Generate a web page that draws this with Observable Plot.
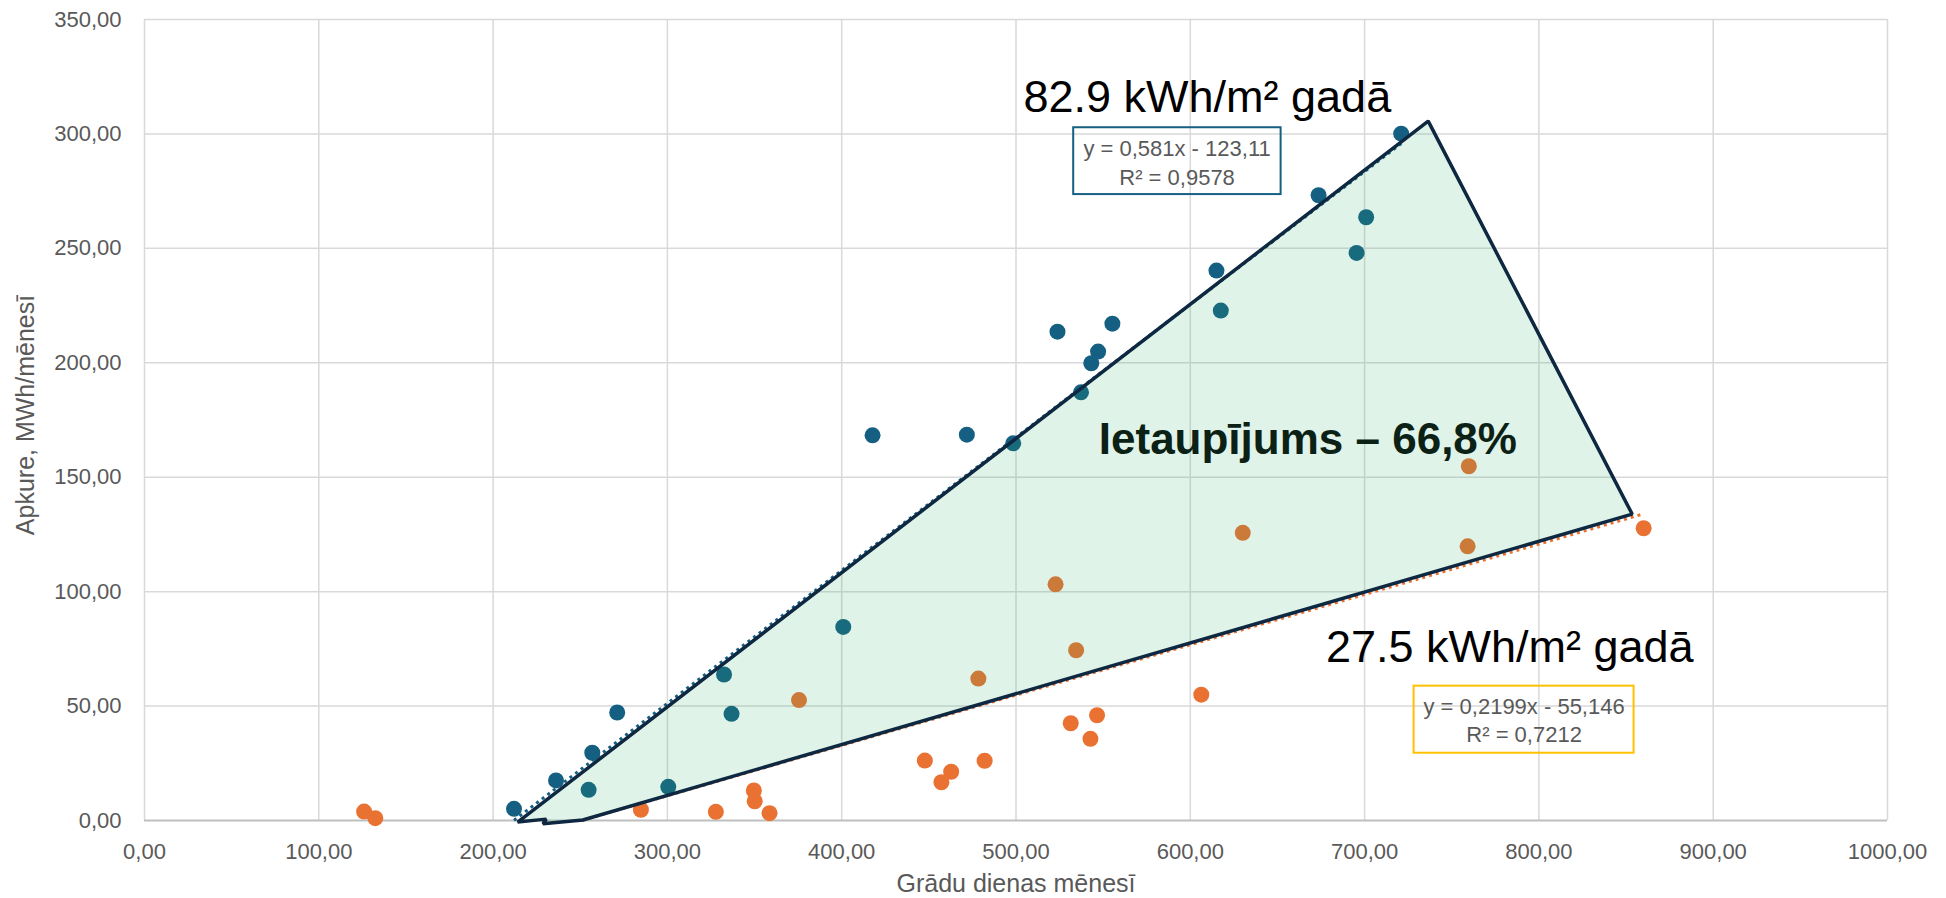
<!DOCTYPE html>
<html><head><meta charset="utf-8">
<script src="https://cdn.jsdelivr.net/npm/d3@7"></script>
<script src="https://cdn.jsdelivr.net/npm/@observablehq/plot@0.6"></script>
<style>
html,body{margin:0;padding:0;background:#fff;}
#chart svg{display:block;}
</style>
</head><body><div id="chart"></div>
<script>
// Series 1 (before renovation) – degree days vs heating MWh
const blueX = [212.0, 236.1, 254.8, 256.9, 271.2, 300.5, 332.5, 336.8, 400.9, 417.7, 471.8, 498.4, 523.8, 537.3, 543.2, 547.1, 555.3, 615.0, 617.5, 673.6, 695.4, 700.9, 721.0];
const blueY = [5.1, 17.5, 13.4, 29.6, 47.2, 14.7, 63.8, 46.6, 84.6, 168.3, 168.6, 164.8, 213.6, 187.1, 199.8, 204.9, 217.1, 240.3, 222.8, 273.2, 248.0, 263.6, 300.1];
// Series 2 (after renovation)
const orangeX = [126.0, 132.4, 284.8, 327.8, 349.6, 350.1, 358.6, 375.5, 447.7, 457.2, 462.8, 478.4, 482.0, 522.7, 531.4, 534.5, 542.7, 546.5, 606.3, 630.1, 759.1, 759.8, 860.1];
const orangeY = [3.9, 1.0, 4.7, 3.8, 13.1, 8.4, 3.2, 52.6, 26.2, 16.7, 21.3, 62.0, 26.1, 103.2, 42.5, 74.4, 35.7, 46.0, 55.0, 125.7, 119.8, 154.8, 127.7];

// Linear trendlines as printed on the chart
const trendSlope = [0.581, 0.2199];
const trendIntercept = [-123.11, -55.146];
const trendR2 = [0.9578, 0.7212];

// Savings area outline (data units)
const areaX = [214.1, 736.5, 853.5, 251.5, 228.6, 230.5];
const areaY = [-0.7, 305.6, 133.9, 0.2, -1.4, 0.6];

const intensityLabels = ["82.9 kWh/m² gadā", "27.5 kWh/m² gadā"];
const savingsLabel = "Ietaupījums – 66,8%";
const xTitle = "Grādu dienas mēnesī";
const yTitle = "Apkure, MWh/mēnesī";
const xTicks = [0, 100, 200, 300, 400, 500, 600, 700, 800, 900, 1000];
const yTicks = [0, 50, 100, 150, 200, 250, 300, 350];

const BLUE = "#156082", ORANGE = "#e97132", GOLD = "#ffc000";
const fmt = d => d.toFixed(2).replace(".", ",");
const dec = v => String(v).replace(".", ",");

const blue = blueX.map((x, i) => ({x, y: blueY[i]}));
const orange = orangeX.map((x, i) => ({x, y: orangeY[i]}));
const area = areaX.map((x, i) => ({x, y: areaY[i]}));
const seriesX = [blueX, orangeX];
const trends = trendSlope.map((a, i) => {
  const b = trendIntercept[i];
  const x0 = Math.max(d3.min(seriesX[i]), -b / a);
  const x1 = d3.max(seriesX[i]);
  return [{x: x0, y: a * x0 + b}, {x: x1, y: a * x1 + b}];
});
const eqLines = trendSlope.map((a, i) => [
  `y = ${dec(a)}x - ${dec(-trendIntercept[i])}`,
  `R² = ${dec(trendR2[i])}`
]);

const eqBoxes = [
  {x1: 533.1, x2: 652.1, y1: 273.5, y2: 302.7, stroke: BLUE},
  {x1: 728.4, x2: 854.6, y1: 29.4, y2: 58.7, stroke: GOLD}
];
const eqText = [
  {x: 592.4, y: 290.3, t: eqLines[0][0]},
  {x: 592.4, y: 277.8, t: eqLines[0][1]},
  {x: 791.5, y: 46.6, t: eqLines[1][0]},
  {x: 791.5, y: 34.2, t: eqLines[1][1]}
];

const chart = Plot.plot({
  width: 1946,
  height: 898,
  marginLeft: 144,
  marginRight: 59,
  marginTop: 19,
  marginBottom: 78,
  style: {fontFamily: "'Liberation Sans', Arial, sans-serif", background: "#fff", overflow: "visible"},
  x: {domain: [0, 1000]},
  y: {domain: [0, 350]},
  marks: [
    Plot.gridX(xTicks, {stroke: "#d9d9d9", strokeOpacity: 1, strokeWidth: 1.5}),
    Plot.gridY(yTicks.filter(d => d > 0), {stroke: "#d9d9d9", strokeOpacity: 1, strokeWidth: 1.5}),
    Plot.ruleY([0], {stroke: "#bfbfbf", strokeWidth: 2}),
    Plot.axisX(xTicks, {tickSize: 0, tickPadding: 23, tickFormat: fmt, fontSize: 22, color: "#595959", label: null}),
    Plot.axisY(yTicks, {tickSize: 0, tickPadding: 23, tickFormat: fmt, fontSize: 22, color: "#595959", label: null}),
    Plot.text([xTitle], {frameAnchor: "bottom", dy: 63, lineAnchor: "middle", fontSize: 25, fill: "#595959"}),
    Plot.text([yTitle], {frameAnchor: "left", dx: -119, dy: -5, rotate: -90, lineAnchor: "middle", textAnchor: "middle", fontSize: 25, fill: "#595959"}),
    Plot.dot(blue, {x: "x", y: "y", r: 8, fill: BLUE}),
    Plot.dot(orange, {x: "x", y: "y", r: 8, fill: ORANGE}),
    Plot.line(trends[0], {x: "x", y: "y", stroke: BLUE, strokeWidth: 3, strokeDasharray: "3 4", strokeLinecap: "butt"}),
    Plot.line(trends[1], {x: "x", y: "y", stroke: ORANGE, strokeWidth: 3, strokeDasharray: "3 4", strokeLinecap: "butt"}),
    Plot.line(area, {x: "x", y: "y", curve: "linear-closed", fill: "rgb(42,175,102)", fillOpacity: 0.15, stroke: "#0e2841", strokeWidth: 3.5, strokeLinejoin: "miter"}),
    Plot.rect(eqBoxes, {x1: "x1", x2: "x2", y1: "y1", y2: "y2", fill: "none", stroke: "stroke", strokeWidth: 2}),
    Plot.text(eqText, {x: "x", y: "y", text: "t", lineAnchor: "bottom", textAnchor: "middle", fontSize: 22, fill: "#595959"}),
    Plot.text([intensityLabels[0]], {x: 504.3, y: 309.4, textAnchor: "start", lineAnchor: "bottom", fontSize: 45, fill: "#000"}),
    Plot.text([intensityLabels[1]], {x: 677.8, y: 69.2, textAnchor: "start", lineAnchor: "bottom", fontSize: 45, fill: "#000"}),
    Plot.text([savingsLabel], {x: 547.5, y: 160.2, textAnchor: "start", lineAnchor: "bottom", fontSize: 44, fontWeight: "bold", fill: "#0b2116"})
  ]
});
document.getElementById("chart").appendChild(chart);
</script>
</body></html>
